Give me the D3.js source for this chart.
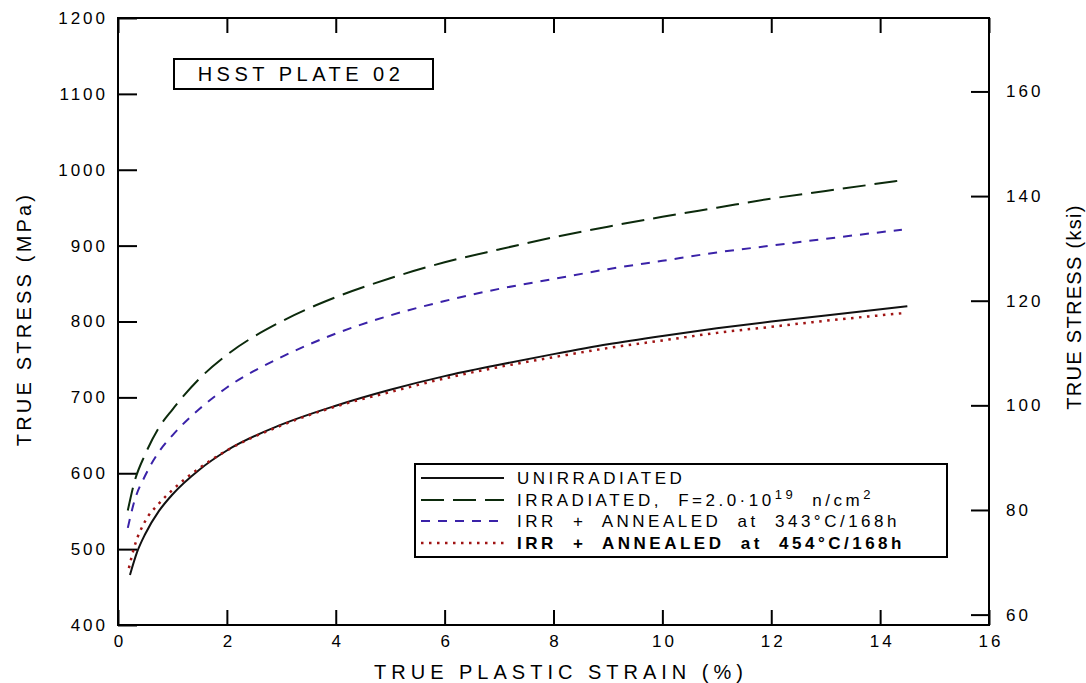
<!DOCTYPE html>
<html>
<head>
<meta charset="utf-8">
<script src="https://cdn.jsdelivr.net/npm/d3@7"></script>
<style>
  body { margin: 0; background: #fff; }
  text { font-family: "Liberation Sans", Arial, sans-serif; fill: #000; }
</style>
</head>
<body>
<script>
var w = 1086;
var h = 683;

// values (strain %, stress MPa)
var unirrStrain = [0.22, 0.35, 0.5, 0.75, 1, 1.5, 2, 3, 4, 5, 6, 7, 8, 9, 10, 11, 12, 13, 14.5];
var unirrStress = [466, 496, 520, 550, 572, 605, 630, 664, 689, 710, 728, 743, 757, 770, 781, 791, 800, 808, 820];

var irrStrain = [0.18, 0.3, 0.5, 0.75, 1, 1.5, 2, 3, 4, 5, 6, 7, 8, 9, 10, 11, 12, 13, 14.38];
var irrStress = [551, 588, 625, 660, 684, 725, 756, 800, 832, 857, 878, 895, 911, 925, 938, 950, 962, 972, 986];

var ann343Strain = [0.18, 0.3, 0.5, 0.75, 1, 1.5, 2, 3, 4, 5, 6, 7, 8, 9, 10, 11, 12, 13, 14.4];
var ann343Stress = [528, 563, 597, 628, 650, 685, 713, 753, 784, 808, 827, 843, 856, 869, 880, 891, 900, 909, 921];

var ann454Strain = [0.2, 0.3, 0.5, 0.75, 1, 1.5, 2, 3, 4, 5, 6, 7, 8, 9, 10, 11, 12, 13, 14.43];
var ann454Stress = [475, 503, 537, 560, 578, 607, 630, 663, 688, 707, 725, 740, 753, 765, 775, 785, 793, 801, 811];

var xTicks = [0, 2, 4, 6, 8, 10, 12, 14, 16];
var mpaTicks = [400, 500, 600, 700, 800, 900, 1000, 1100, 1200];
var ksiTicks = [60, 80, 100, 120, 140, 160];

var series = [
  {name: "UNIRRADIATED", x: unirrStrain, y: unirrStress, color: "#111111", dash: null, text: "#000"},
  {name: "IRRADIATED", x: irrStrain, y: irrStress, color: "#0c2a0c", dash: "23,9", text: "#000"},
  {name: "343", x: ann343Strain, y: ann343Stress, color: "#3a22a8", dash: "9,8", text: "#2323d8"},
  {name: "454", x: ann454Strain, y: ann454Stress, color: "#a01414", dash: "2.5,5.5", text: "#ff0000"}
];

var pLeft = 118, pRight = 989, pTop = 18, pBottom = 625;

var x = d3.scaleLinear().domain([0, 16]).range([pLeft, pRight]);
var y = d3.scaleLinear().domain([400, 1200]).range([pBottom, pTop]);
var yKsi = d3.scaleLinear().domain([400 / 6.895, 1200 / 6.895]).range([pBottom, pTop]);

var svg = d3.select("body").append("svg")
  .attr("width", w)
  .attr("height", h);

// frame
svg.append("rect")
  .attr("x", pLeft).attr("y", pTop)
  .attr("width", pRight - pLeft).attr("height", pBottom - pTop)
  .attr("fill", "none").attr("stroke", "#000").attr("stroke-width", 2);

function styleAxis(g) {
  g.select(".domain").remove();
  g.selectAll("line").attr("stroke", "#000").attr("stroke-width", 2);
  g.selectAll("text")
    .attr("font-size", "17px")
    .attr("letter-spacing", "3px")
    .attr("fill", "#000");
}

var fmt = d3.format("d");

svg.append("g")
  .attr("transform", "translate(" + pLeft + ",0)")
  .call(d3.axisLeft(y).tickValues(mpaTicks).tickFormat(fmt).tickSize(-19).tickPadding(10))
  .call(styleAxis);

svg.append("g")
  .attr("transform", "translate(" + pRight + ",0)")
  .call(d3.axisRight(yKsi).tickValues(ksiTicks).tickFormat(fmt).tickSize(-18).tickPadding(17))
  .call(styleAxis);

svg.append("g")
  .attr("transform", "translate(0," + pBottom + ")")
  .call(d3.axisBottom(x).tickValues(xTicks).tickFormat(fmt).tickSize(-15).tickPadding(10))
  .call(styleAxis)
  .selectAll("text").attr("dx", "1.5px");

svg.append("g")
  .attr("transform", "translate(0," + pTop + ")")
  .call(d3.axisTop(x).tickValues(xTicks).tickSize(-15).tickFormat(""))
  .call(styleAxis);

// axis titles
svg.append("text")
  .attr("x", 561)
  .attr("y", 679)
  .attr("text-anchor", "middle")
  .attr("font-size", "20px")
  .attr("letter-spacing", "5px")
  .text("TRUE PLASTIC STRAIN (%)");

svg.append("text")
  .attr("transform", "translate(31,319) rotate(-90)")
  .attr("text-anchor", "middle")
  .attr("font-size", "20px")
  .attr("letter-spacing", "3.2px")
  .attr("fill", "#0a2a0a")
  .text("TRUE STRESS (MPa)");

svg.append("text")
  .attr("transform", "translate(1081,307) rotate(-90)")
  .attr("text-anchor", "middle")
  .attr("font-size", "20px")
  .attr("letter-spacing", "1.3px")
  .attr("fill", "#0a2a0a")
  .text("TRUE STRESS (ksi)");

// title box
svg.append("rect")
  .attr("x", 174).attr("y", 59).attr("width", 259).attr("height", 30)
  .attr("fill", "none").attr("stroke", "#000").attr("stroke-width", 2);
svg.append("text")
  .attr("x", 301).attr("y", 81)
  .attr("text-anchor", "middle")
  .attr("font-size", "20px")
  .attr("letter-spacing", "4.5px")
  .text("HSST PLATE 02");

// curves
var line = d3.line()
  .x(function(d) { return x(d[0]); })
  .y(function(d) { return y(d[1]); })
  .curve(d3.curveMonotoneX);

series.forEach(function(s) {
  var pts = s.x.map(function(v, i) { return [v, s.y[i]]; });
  svg.append("path")
    .attr("d", line(pts))
    .attr("fill", "none")
    .attr("stroke", s.color)
    .attr("stroke-width", s.dash == "2.5,5.5" ? 2.5 : 2)
    .attr("stroke-dasharray", s.dash);
});

// legend
var lg = svg.append("g");
lg.append("rect")
  .attr("x", 415).attr("y", 464).attr("width", 532).attr("height", 93)
  .attr("fill", "#fff").attr("stroke", "#000").attr("stroke-width", 2);

var rowY = [478, 500, 521, 543];
series.forEach(function(s, i) {
  lg.append("line")
    .attr("x1", 421).attr("x2", 504)
    .attr("y1", rowY[i]).attr("y2", rowY[i])
    .attr("stroke", s.color)
    .attr("stroke-width", s.dash == "2.5,5.5" ? 2.5 : 2)
    .attr("stroke-dasharray", s.dash);
});

function legendText(i) {
  return lg.append("text")
    .attr("x", 517).attr("y", rowY[i] + 6)
    .attr("font-size", "17px")
    .attr("letter-spacing", "3.5px")
    .attr("word-spacing", "8px")
    .attr("fill", series[i].text);
}

legendText(0).text("UNIRRADIATED");

var t1 = legendText(1);
t1.append("tspan").text("IRRADIATED, F=2.0\u00b710");
t1.append("tspan").attr("dy", -7).attr("font-size", "13px").text("19");
t1.append("tspan").attr("dy", 7).text(" n/cm");
t1.append("tspan").attr("dy", -7).attr("font-size", "13px").text("2");

legendText(2).text("IRR + ANNEALED at 343\u00b0C/168h");
legendText(3).attr("font-weight", "bold").text("IRR + ANNEALED at 454\u00b0C/168h");
</script>
</body>
</html>
